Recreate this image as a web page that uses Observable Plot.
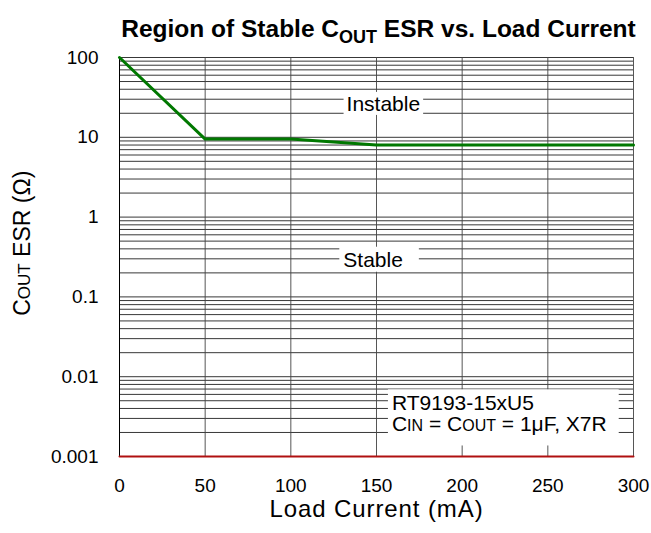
<!DOCTYPE html>
<html><head><meta charset="utf-8">
<script src="https://cdn.jsdelivr.net/npm/d3@7"></script>
<script src="https://cdn.jsdelivr.net/npm/@observablehq/plot@0.6"></script>
<style>
body{margin:0;background:#fff;}
#chart svg{display:block;}
</style></head><body><div id="chart"></div>
<script>
// ---- data ----
const loadCurrent = [0, 50, 100, 150, 300];          // mA
const esrBoundary = [100, 9.5, 9.5, 8, 8];           // ohm (stable/instable boundary)
const floorCurrent = [0, 300];
const floorEsr = [0.001, 0.001];
const xTicks = [0, 50, 100, 150, 200, 250, 300];
const yTicks = [0.001, 0.01, 0.1, 1, 10, 100];
const yTickLabels = ["0.001", "0.01", "0.1", "1", "10", "100"];
const regionText = ["Instable", "Stable"];
const regionX = [154, 148];
const regionY = [26, 0.29];
const noteText = ["RT9193-15xU5", "CIN = COUT = 1μF, X7R"];
const noteX = [159, 159];
const noteY = [0.0046, 0.0025];
const titleParts = [["Region of Stable C", false], ["OUT", true], [" ESR vs. Load Current", false]];
const yLabelParts = [["C", false], ["OUT", true], [" ESR (Ω)", false]];
const xLabel = "Load Current (mA)";
const noteParts = [null, [["C", false], ["IN", true], [" = C", false], ["OUT", true], [" = 1μF, X7R", false]]];

const FONT = "'Liberation Sans', Arial, Helvetica, sans-serif";
const plain = parts => parts.map(p => p[0]).join("");
const titleText = plain(titleParts);
const yLabelText = plain(yLabelParts);

const boundary = loadCurrent.map((x, i) => ({x, y: esrBoundary[i]}));
const floor = floorCurrent.map((x, i) => ({x, y: floorEsr[i]}));
const regions = regionText.map((t, i) => ({t, x: regionX[i], y: regionY[i]}));
const notes = noteText.map((t, i) => ({t, x: noteX[i], y: noteY[i]}));
const minorTicks = d3.scaleLog().domain([0.001, 100]).ticks();

const chart = Plot.plot({
  width: 651, height: 533,
  marginTop: 57, marginBottom: 77, marginLeft: 119, marginRight: 18,
  style: {fontFamily: FONT, background: "#fff", color: "#000"},
  x: {domain: [0, 300]},
  y: {type: "log", domain: [0.001, 100]},
  marks: [
    Plot.gridY(minorTicks, {stroke: "#222", strokeOpacity: 0.9, strokeWidth: 1}),
    Plot.gridX(xTicks, {stroke: "#444", strokeOpacity: 0.9, strokeWidth: 1}),
    Plot.ruleX([0], {stroke: "#000", strokeWidth: 1}),
    Plot.axisX(xTicks, {tickSize: 0, tickPadding: 22, fontSize: 19, label: null}),
    Plot.axisY(yTicks, {tickSize: 0, tickPadding: 21, fontSize: 19, label: null,
      tickFormat: d => yTickLabels[yTicks.indexOf(d)]}),
    Plot.line(floor, {x: "x", y: "y", stroke: "#b01010", strokeWidth: 2}),
    Plot.line(boundary, {x: "x", y: "y", stroke: "#007800", strokeWidth: 3}),
    Plot.text(regions, {x: "x", y: "y", text: "t", fontSize: 21, fill: "#000"}),
    Plot.text(notes, {x: "x", y: "y", text: "t", fontSize: 21, fill: "#000", textAnchor: "start"}),
    Plot.text([titleText], {frameAnchor: "top", dx: 2, dy: -38, text: d => d, fontSize: 24.5, fontWeight: "bold", fill: "#000"}),
    Plot.text([xLabel], {frameAnchor: "bottom", dy: 60, text: d => d, fontSize: 24, fill: "#000"}),
    Plot.text([yLabelText], {x: () => 0, y: () => 0.47, dx: -97, rotate: -90, text: d => d, fontSize: 23, fill: "#000"})
  ]
});
document.getElementById("chart").appendChild(chart);

// x label slightly expanded like the reference
d3.select(chart).selectAll("text").filter(function () { return this.textContent === xLabel; })
  .attr("letter-spacing", "0.9px");

// rich text (subscripts / small caps)
function rich(plainStr, parts, fontSize, sub) {
  d3.select(chart).selectAll("text").filter(function () { return this.textContent === plainStr; }).each(function () {
    const t = d3.select(this); t.text(null);
    let prevSmall = false;
    parts.forEach(([s, small]) => {
      const ts = t.append("tspan").text(s);
      if (small) {
        ts.attr("font-size", Math.round(fontSize * 0.74));
        if (sub) ts.attr("dy", fontSize * 0.25);
      } else if (prevSmall && sub) ts.attr("dy", -fontSize * 0.25);
      prevSmall = small;
    });
  });
}
rich(titleText, titleParts, 24.5, true);
rich(yLabelText, yLabelParts, 23, false);
rich(noteText[1], noteParts[1], 21, false);

// white boxes behind in-plot labels
const svgBox = chart.getBoundingClientRect();
function boxBehind(texts, pad) {
  const rs = texts.map(n => n.getBoundingClientRect());
  const x0 = d3.min(rs, r => r.left) - svgBox.left - pad[0];
  const x1 = d3.max(rs, r => r.right) - svgBox.left + pad[1];
  const y0 = d3.min(rs, r => r.top) - svgBox.top - pad[2];
  const y1 = d3.max(rs, r => r.bottom) - svgBox.top + pad[3];
  const g = texts[0].parentNode;
  const rect = document.createElementNS("http://www.w3.org/2000/svg", "rect");
  rect.setAttribute("x", x0); rect.setAttribute("y", y0);
  rect.setAttribute("width", x1 - x0); rect.setAttribute("height", y1 - y0);
  rect.setAttribute("fill", "#fff");
  g.parentNode.insertBefore(rect, g);
}
const allTexts = Array.from(chart.querySelectorAll("text"));
const find = s => allTexts.find(n => n.textContent === s);
boxBehind([find("Instable")], [3, 3, 0, 0]);
boxBehind([find("Stable")], [4, 16, 1, 1]);
boxBehind([find(noteText[0]), find(noteText[1])], [4, 12, 2, 10]);
</script></body></html>
